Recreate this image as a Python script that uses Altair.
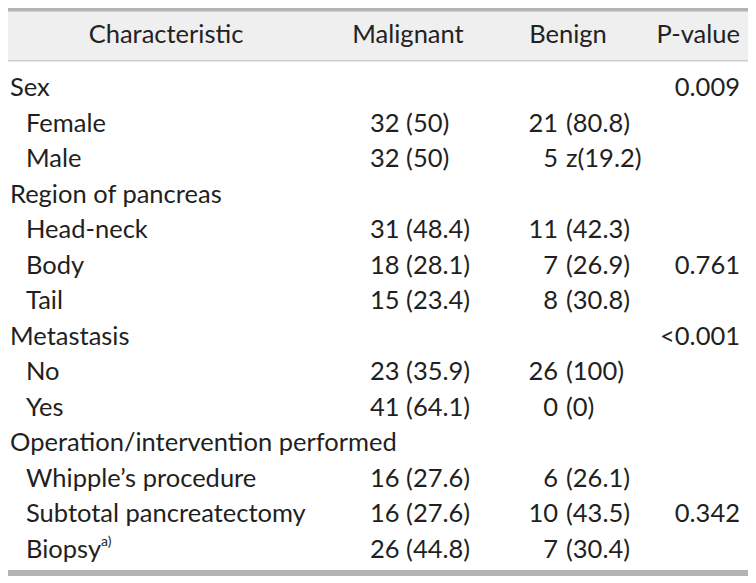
import altair as alt
import pandas as pd

labels = ["Sex", "Female", "Male", "Region of pancreas", "Head-neck", "Body", "Tail",
          "Metastasis", "No", "Yes", "Operation/intervention performed",
          "Whipple\u2019s procedure", "Subtotal pancreatectomy", "Biopsy"]
indent = [0, 1, 1, 0, 1, 1, 1, 0, 1, 1, 0, 1, 1, 1]
malignant = ["", "32 (50)", "32 (50)", "", "31 (48.4)", "18 (28.1)", "15 (23.4)",
             "", "23 (35.9)", "41 (64.1)", "", "16 (27.6)", "16 (27.6)", "26 (44.8)"]
benign_n = ["", "21", "5", "", "11", "7", "8", "", "26", "0", "", "6", "10", "7"]
benign_pct = ["", "(80.8)", "z(19.2)", "", "(42.3)", "(26.9)", "(30.8)", "", "(100)", "(0)",
              "", "(26.1)", "(43.5)", "(30.4)"]
pvalue = ["0.009", "", "", "", "", "0.761", "", "<0.001", "", "", "", "", "0.342", ""]
headers = ["Characteristic", "Malignant", "Benign", "P-value"]
footnote_mark = ["", "", "", "", "", "", "", "", "", "", "", "", "", "a)"]

rows = pd.DataFrame({
    "row": list(range(len(labels))),
    "label": labels,
    "indent": indent,
    "malignant": malignant,
    "benign_n": benign_n,
    "benign_pct": benign_pct,
    "pvalue": pvalue,
    "sup": footnote_mark,
})

FONT = "Lato"
FS = 25.5
COLOR = "#231f20"

yscale = alt.Scale(domain=[0, 13], range=[88, 549.5])
Y = alt.Y("row:Q", scale=yscale, axis=None)

base = alt.Chart(rows)

def txt(**kw):
    d = dict(font=FONT, fontSize=FS, color=COLOR, baseline="alphabetic")
    d.update(kw)
    return d

# decorations
one = pd.DataFrame({"k": [0]})
header_bg = alt.Chart(one).mark_rect(color="#efefef").encode(
    x=alt.value(0), x2=alt.value(740), y=alt.value(3), y2=alt.value(52))
top_rule = alt.Chart(one).mark_rect(color="#b3b3b3").encode(
    x=alt.value(0), x2=alt.value(740), y=alt.value(0), y2=alt.value(3.5))
header_line = alt.Chart(one).mark_rect(color="#cfcfcf").encode(
    x=alt.value(0), x2=alt.value(740), y=alt.value(52), y2=alt.value(53.5))
bottom_rule = alt.Chart(one).mark_rect(color="#b3b3b3").encode(
    x=alt.value(0), x2=alt.value(740), y=alt.value(562), y2=alt.value(568))

hdr = pd.DataFrame({"h": headers})
h1 = alt.Chart(hdr[hdr.h == "Characteristic"]).mark_text(**txt(align="center", color="#222222")).encode(
    text="h:N", x=alt.value(158), y=alt.value(35))
h2 = alt.Chart(hdr[hdr.h == "Malignant"]).mark_text(**txt(align="center", color="#222222")).encode(
    text="h:N", x=alt.value(400), y=alt.value(35))
h3 = alt.Chart(hdr[hdr.h == "Benign"]).mark_text(**txt(align="center", color="#222222")).encode(
    text="h:N", x=alt.value(560), y=alt.value(35))
h4 = alt.Chart(hdr[hdr.h == "P-value"]).mark_text(**txt(align="right", color="#222222")).encode(
    text="h:N", x=alt.value(732), y=alt.value(35))

lab0 = base.transform_filter("datum.indent == 0").mark_text(**txt(align="left")).encode(
    text="label:N", x=alt.value(2), y=Y)
lab1 = base.transform_filter("datum.indent == 1").mark_text(**txt(align="left")).encode(
    text="label:N", x=alt.value(18), y=Y)
sup = base.transform_filter("datum.sup != ''").mark_text(**txt(align="left", fontSize=14, dy=-12)).encode(
    text="sup:N", x=alt.value(93), y=Y)

mal = base.mark_text(**txt(align="left")).encode(text="malignant:N", x=alt.value(362), y=Y)
ben_n = base.mark_text(**txt(align="right")).encode(text="benign_n:N", x=alt.value(550), y=Y)
ben_p = base.mark_text(**txt(align="left")).encode(text="benign_pct:N", x=alt.value(558), y=Y)
pv = base.mark_text(**txt(align="right")).encode(text="pvalue:N", x=alt.value(732), y=Y)

chart = alt.layer(
    header_bg, top_rule, header_line, bottom_rule,
    h1, h2, h3, h4, lab0, lab1, sup, mal, ben_n, ben_p, pv
).properties(
    width=740, height=575, padding=0, autosize=alt.AutoSizeParams(type="none")
).configure_view(stroke=None)

chart.save("out.html", embed_options={"renderer": "svg", "actions": False})
